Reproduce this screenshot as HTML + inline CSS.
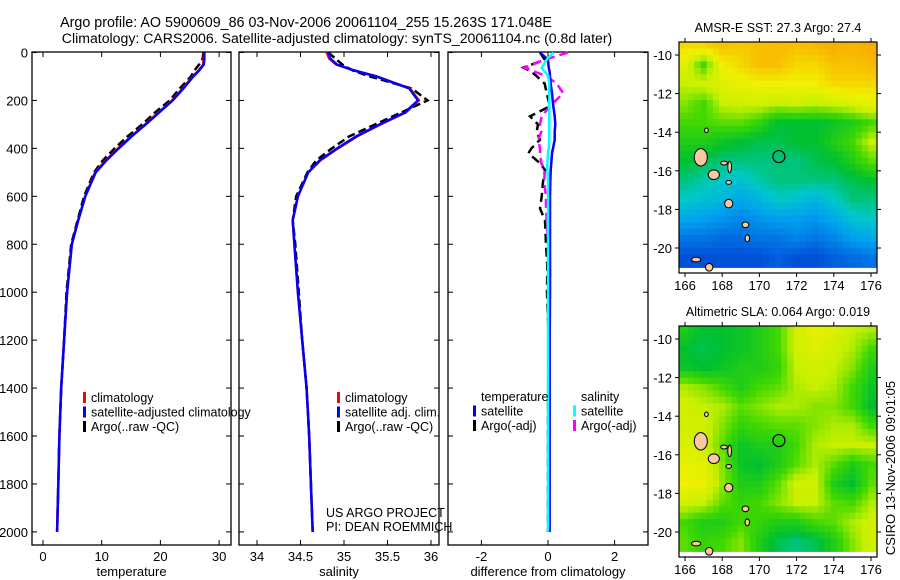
<!DOCTYPE html>
<html><head><meta charset="utf-8"><style>
html,body{margin:0;padding:0;background:#fff;}
svg{display:block;font-family:"Liberation Sans",sans-serif;}
</style></head><body>
<svg id="fig" width="900" height="580" viewBox="0 0 900 580" xmlns="http://www.w3.org/2000/svg">
<text x="306" y="27" font-size="14.3" text-anchor="middle">Argo profile: AO 5900609_86 03-Nov-2006 20061104_255 15.263S 171.048E</text>
<text x="337" y="43" font-size="14.1" text-anchor="middle">Climatology: CARS2006. Satellite-adjusted climatology: synTS_20061104.nc (0.8d later)</text>
<g id="g1"></g>
<g id="g2"></g>
<g id="g3"></g>
<g id="m1"></g>
<g id="m2"></g>
<text transform="translate(895,468) rotate(-90)" font-size="13" text-anchor="middle">CSIRO 13-Nov-2006 09:01:05</text>
</svg>
<script>
// ---- profile data ----
const depths = [0,25,50,75,100,150,200,250,300,350,400,450,500,600,700,800,1000,1200,1400,1600,1800,2000];
const tempClim = [27.4,27.4,27.3,26.5,25.5,23.8,22.0,19.7,17.4,15.0,12.8,10.7,8.9,7.2,6.0,4.9,4.1,3.6,3.1,2.8,2.6,2.4];
const tempSat  = [27.5,27.5,27.4,26.6,25.6,23.9,22.1,19.8,17.5,15.1,12.9,10.8,9.0,7.2,6.0,4.9,4.1,3.6,3.1,2.8,2.6,2.4];
const tempArgo = [27.3,27.2,26.6,25.8,25.2,23.3,21.6,19.1,16.9,14.4,12.2,10.2,8.7,7.0,5.9,4.8,4.0,3.6,3.1,2.8,2.6,2.4];
const salClim  = [34.80,34.83,34.91,35.12,35.38,35.76,35.86,35.71,35.42,35.15,34.93,34.73,34.59,34.47,34.41,34.43,34.47,34.52,34.57,34.60,34.62,34.64];
const salSat   = [34.82,34.84,34.92,35.12,35.37,35.75,35.85,35.70,35.41,35.14,34.92,34.72,34.59,34.47,34.41,34.43,34.47,34.52,34.57,34.60,34.62,34.64];
const salArgo  = [34.82,34.90,34.98,35.10,35.30,35.78,35.96,35.66,35.36,35.06,34.86,34.68,34.58,34.45,34.41,34.44,34.48,34.52,34.57,34.60,34.62,34.64];
const diffDepths = [0,30,63,80,99,130,170,224,266,300,330,364,400,420,462,490,540,600,650,700,800,894,1000,1200,1500,2000];
const diffTempSat  = [-0.24,0.0,0.02,0.05,0.06,0.08,0.12,0.16,0.2,0.22,0.2,0.2,0.15,0.12,0.1,0.08,0.07,0.06,0.06,0.06,0.06,0.06,0.06,0.05,0.05,0.05];
const diffTempArgo = [-0.24,-0.1,-0.74,-0.5,-0.34,-0.1,-0.04,0.06,-0.54,-0.3,-0.34,-0.24,-0.5,-0.59,-0.24,-0.09,-0.15,-0.19,-0.24,-0.09,-0.06,-0.02,-0.03,0.02,0.0,0.0];
const diffSalSat   = [0.16,-0.04,-0.19,-0.1,0.01,0.04,0.04,0.04,0.04,0.04,0.04,0.04,0.02,0.0,-0.02,-0.02,0.0,0.0,0.0,0.0,0.0,0.0,0.0,0.0,0.0,0.0];
const diffSalArgo  = [0.6,-0.1,-0.7,-0.4,-0.04,0.26,0.46,0.06,-0.19,-0.24,-0.2,-0.29,-0.24,-0.24,-0.2,-0.09,-0.12,-0.06,-0.06,-0.04,0.0,0.06,0.05,0.05,0.04,0.03];
const depthTicks = [0,200,400,600,800,1000,1200,1400,1600,1800,2000];
const tempTicks = [0,10,20,30];
const salTicks = [34,34.5,35,35.5,36];
const diffTicks = [-2,0,2];
// ---- map data (rows lat -9.5 .. -20.5, cols lon 166..176) ----
const mapLats = [-9.5,-10.5,-11.5,-12.5,-13.5,-14.5,-15.5,-16.5,-17.5,-18.5,-19.5,-20.5];
const mapLons = [166,167,168,169,170,171,172,173,174,175,176];
const sstGrid = [
[0.85,0.85,0.9,0.88,0.9,0.92,0.9,0.92,0.95,0.93,0.97],
[0.75,0.6,0.8,0.85,0.9,0.9,0.85,0.85,0.9,0.9,0.92],
[0.7,0.72,0.75,0.78,0.8,0.8,0.8,0.8,0.85,0.85,0.85],
[0.65,0.6,0.7,0.72,0.72,0.7,0.72,0.7,0.72,0.75,0.78],
[0.6,0.6,0.62,0.62,0.58,0.5,0.5,0.5,0.52,0.55,0.6],
[0.55,0.55,0.52,0.5,0.48,0.48,0.5,0.5,0.55,0.6,0.7],
[0.5,0.48,0.45,0.45,0.45,0.45,0.45,0.48,0.5,0.55,0.62],
[0.45,0.42,0.4,0.38,0.42,0.45,0.45,0.45,0.45,0.48,0.5],
[0.4,0.38,0.35,0.32,0.35,0.4,0.38,0.35,0.4,0.45,0.45],
[0.32,0.3,0.28,0.25,0.28,0.3,0.3,0.28,0.32,0.38,0.4],
[0.22,0.22,0.2,0.2,0.22,0.22,0.25,0.22,0.25,0.3,0.32],
[0.15,0.15,0.15,0.15,0.15,0.18,0.15,0.15,0.18,0.2,0.22]];
const slaGrid = [
[0.55,0.5,0.5,0.52,0.55,0.6,0.72,0.78,0.75,0.7,0.68],
[0.5,0.48,0.5,0.52,0.55,0.6,0.72,0.75,0.72,0.68,0.6],
[0.52,0.5,0.52,0.55,0.55,0.58,0.7,0.72,0.7,0.65,0.55],
[0.68,0.65,0.6,0.55,0.6,0.62,0.68,0.7,0.68,0.6,0.52],
[0.72,0.7,0.68,0.62,0.65,0.68,0.68,0.65,0.65,0.6,0.5],
[0.72,0.72,0.65,0.58,0.6,0.62,0.62,0.65,0.68,0.68,0.6],
[0.74,0.72,0.62,0.52,0.55,0.55,0.6,0.68,0.7,0.7,0.7],
[0.78,0.76,0.65,0.52,0.5,0.55,0.62,0.68,0.62,0.55,0.6],
[0.8,0.78,0.66,0.55,0.55,0.62,0.72,0.72,0.55,0.5,0.62],
[0.72,0.7,0.62,0.58,0.6,0.65,0.7,0.7,0.62,0.6,0.68],
[0.6,0.55,0.55,0.6,0.58,0.55,0.55,0.6,0.62,0.68,0.72],
[0.62,0.58,0.6,0.65,0.55,0.48,0.45,0.48,0.55,0.65,0.72]];
const islandLon = [166.85,167.55,168.35,168.1,168.35,169.25,169.35,166.6,167.3,167.15,168.4];
const islandLat = [-15.3,-16.2,-17.7,-15.6,-16.6,-18.8,-19.5,-20.6,-21.0,-13.9,-15.8];
const islandRx  = [0.35,0.3,0.22,0.18,0.15,0.18,0.12,0.25,0.2,0.1,0.1];
const islandRy  = [0.45,0.25,0.22,0.1,0.1,0.15,0.18,0.12,0.2,0.12,0.3];
const argoLon = 171.048, argoLat = -15.263;
const lonTicks = [166,168,170,172,174,176];
const latTicks = [-10,-12,-14,-16,-18,-20];

const NS='http://www.w3.org/2000/svg';
function mk(parent,tag,attrs,text){const e=document.createElementNS(NS,tag);for(const k in attrs)e.setAttribute(k,attrs[k]);if(text!==undefined)e.textContent=text;parent.appendChild(e);return e;}

const pTop=52, pBot=545;
const yD = d => 52.5 + d*0.2397;
const panels = [
 {g:'g1',x0:32,x1:231,f:v=>43+v*5.87,ticks:tempTicks,label:'temperature'},
 {g:'g2',x0:239,x1:439,f:v=>257+(v-34)*87,ticks:salTicks,label:'salinity'},
 {g:'g3',x0:448,x1:648,f:v=>548+v*33.3,ticks:diffTicks,label:'difference from climatology'}];

panels.forEach((p,i)=>{
  const g=document.getElementById(p.g);
  const fr=mk(g,'rect',{x:p.x0,y:pTop,width:p.x1-p.x0,height:pBot-pTop,fill:'none',stroke:'#000','stroke-width':1.3});
  
  
  p.ticks.forEach(t=>{
    const x=p.f(t);
    mk(g,'line',{x1:x,x2:x,y1:pBot,y2:pBot-5,stroke:'#000'});
    mk(g,'line',{x1:x,x2:x,y1:pTop,y2:pTop+5,stroke:'#000'});
    const tl=mk(g,'text',{x:x,y:pBot+16,'font-size':13,'text-anchor':'middle'},String(t));
    
    
  });
  depthTicks.forEach(d=>{
    const y=yD(d);
    mk(g,'line',{x1:p.x0,x2:p.x0+5,y1:y,y2:y,stroke:'#000'});
    mk(g,'line',{x1:p.x1,x2:p.x1-5,y1:y,y2:y,stroke:'#000'});
    if(i===0){
      const yl=mk(g,'text',{x:28,y:y+5,'font-size':13,'text-anchor':'end'},String(d));
      
      
    }
  });
  const xl=mk(g,'text',{x:(p.x0+p.x1)/2,y:576,'font-size':13,'text-anchor':'middle'},p.label);
  
  
});
function series(gid,f,vals,ds,color,w,dash,name){
  const g=document.getElementById(gid);
  const pts=vals.map((v,k)=>f(v).toFixed(1)+','+yD(ds[k]).toFixed(1)).join(' ');
  const a={points:pts,fill:'none',stroke:color,'stroke-width':w};
  if(dash)a['stroke-dasharray']=dash;
  const e=mk(g,'polyline',a);
  
  
}
series('g1',panels[0].f,tempArgo,depths,'#000',2.5,'8,4','argo-temperature-line');
series('g1',panels[0].f,tempClim,depths,'#f00',2.5,null,'climatology-temperature-line');
series('g1',panels[0].f,tempSat,depths,'#00f',2.5,null,'satellite-temperature-line');
series('g2',panels[1].f,salArgo,depths,'#000',2.5,'8,4','argo-salinity-line');
series('g2',panels[1].f,salClim,depths,'#f00',2.5,null,'climatology-salinity-line');
series('g2',panels[1].f,salSat,depths,'#00f',2.5,null,'satellite-salinity-line');
series('g3',panels[2].f,diffTempArgo,diffDepths,'#000',2.5,'9,5','argo-temp-diff-line');
series('g3',panels[2].f,diffSalArgo,diffDepths,'#f0f',2.5,'9,5','argo-sal-diff-line');
series('g3',panels[2].f,diffTempSat,diffDepths,'#00f',2.5,null,'satellite-temp-diff-line');
series('g3',panels[2].f,diffSalSat,diffDepths,'#0ff',2.5,null,'satellite-sal-diff-line');

function legend(gid,x,y,items){
  const g=document.getElementById(gid);
  items.forEach((it,k)=>{
    const yy=y+k*14.5;
    if(it[0]){
      const m=mk(g,'rect',{x:x,y:yy-10,width:3,height:11,fill:it[0]});
      
      
    }
    const t=mk(g,'text',{x:x+8,y:yy,'font-size':12.5},it[1]);
    
    
  });
}
legend('g1',83,402,[['#f00','climatology'],['#00f','satellite-adjusted climatology'],['#000','Argo(..raw -QC)']]);
legend('g2',337,402,[['#f00','climatology'],['#00f','satellite adj. clim.'],['#000','Argo(..raw -QC)']]);
legend('g3',473,401,[[null,'temperature'],['#00f','satellite'],['#000','Argo(-adj)']]);
legend('g3',573,401,[[null,'salinity'],['#0ff','satellite'],['#f0f','Argo(-adj)']]);
{
 const g=document.getElementById('g2');
 const a=mk(g,'text',{x:326,y:517,'font-size':12.5},'US ARGO PROJECT');
 
 
 const b=mk(g,'text',{x:326,y:531,'font-size':12.5},'PI: DEAN ROEMMICH');
 
 
}

// colormap
const stops=[[0,[10,30,160]],[0.15,[0,80,216]],[0.3,[0,160,240]],[0.4,[0,200,200]],[0.5,[0,192,48]],[0.6,[64,216,0]],[0.7,[200,240,0]],[0.8,[240,240,0]],[0.9,[248,192,0]],[1,[248,160,0]]];
function cmap(v){v=Math.max(0,Math.min(1,v));for(let i=1;i<stops.length;i++){if(v<=stops[i][0]){const a=stops[i-1],b=stops[i];const t=(v-a[0])/(b[0]-a[0]);const c=a[1].map((q,j)=>Math.round(q+(b[1][j]-q)*t));return 'rgb('+c.join(',')+')';}}return 'rgb(248,160,0)';}

function drawMap(gid,box,title,grid){
  const g=document.getElementById(gid);
  const lx=lon=>685+(lon-166)*18.6;
  const ly=lat=>box.yA+(lat+10)*(-box.s);
  const clip=mk(g,'clipPath',{id:gid+'c'});
  mk(clip,'rect',{x:679,y:box.y0,width:198,height:box.y1-box.y0});
  const inner=mk(g,'g',{'clip-path':'url(#'+gid+'c)'});
  const sub=3;
  for(let r=0;r<grid.length;r++)for(let c=0;c<grid[r].length;c++){
    for(let a=0;a<sub;a++)for(let b=0;b<sub;b++){
      const fr=(a+0.5)/sub-0.5, fc=(b+0.5)/sub-0.5;
      const r2=Math.min(grid.length-1,Math.max(0,r+(fr<0?-1:1))), c2=Math.min(grid[r].length-1,Math.max(0,c+(fc<0?-1:1)));
      const wr=Math.abs(fr), wc=Math.abs(fc);
      const v=grid[r][c]*(1-wr)*(1-wc)+grid[r2][c]*wr*(1-wc)+grid[r][c2]*(1-wr)*wc+grid[r2][c2]*wr*wc;
      const lon0=mapLons[c]-0.5+b/sub, lat0=mapLats[r]+0.5-a/sub;
      const x=lx(lon0), y=ly(lat0);
      const cell=mk(inner,'rect',{x:x.toFixed(1),y:y.toFixed(1),width:(18.6/sub+0.6).toFixed(1),height:(box.s/sub+0.6).toFixed(1),fill:cmap(v)});
      
      
    }
  }
  islandLon.forEach((lo,k)=>{
    const e=mk(inner,'ellipse',{cx:lx(lo),cy:ly(islandLat[k]),rx:islandRx[k]*18.6,ry:islandRy[k]*box.s,fill:'#f8c8a0',stroke:'#000','stroke-width':1});
    
    
  });
  const m=mk(g,'circle',{cx:lx(argoLon),cy:ly(argoLat),r:6,fill:'none',stroke:'#000','stroke-width':1.2});
  
  
  mk(g,'rect',{x:679,y:box.y0,width:198,height:box.y1-box.y0,fill:'none',stroke:'#000','stroke-width':1.2});
  lonTicks.forEach(t=>{const x=lx(t);mk(g,'line',{x1:x,x2:x,y1:box.y1,y2:box.y1+4,stroke:'#000'});mk(g,'line',{x1:x,x2:x,y1:box.y0,y2:box.y0-4,stroke:'#000'});
    const l=mk(g,'text',{x:x,y:box.y1+17,'font-size':13,'text-anchor':'middle'},String(t));
    
    });
  latTicks.forEach(t=>{const y=ly(t);mk(g,'line',{x1:679,x2:675,y1:y,y2:y,stroke:'#000'});mk(g,'line',{x1:877,x2:881,y1:y,y2:y,stroke:'#000'});
    const l=mk(g,'text',{x:672,y:y+5,'font-size':13,'text-anchor':'end'},String(t));
    
    });
  const tt=mk(g,'text',{x:778,y:box.y0-10,'font-size':12.5,'text-anchor':'middle'},title);
  
  
}
drawMap('m1',{y0:42,y1:273,yA:55,s:19.3},'AMSR-E SST: 27.3  Argo: 27.4',sstGrid);
drawMap('m2',{y0:326,y1:557,yA:339,s:19.3},'Altimetric SLA: 0.064  Argo: 0.019',slaGrid);
</script>
</body></html>
